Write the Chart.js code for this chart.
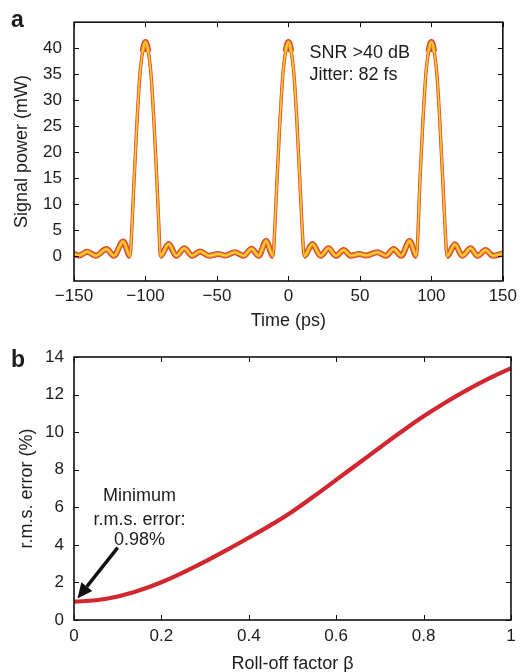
<!DOCTYPE html>
<html>
<head>
<meta charset="utf-8">
<script src="https://cdn.jsdelivr.net/npm/chart.js@4.4.1/dist/chart.umd.min.js"></script>
<style>
  html, body { margin: 0; padding: 0; background: #fff; overflow: hidden; }
  #wrapA { position: absolute; left: 0; top: 0; }
  #wrapB { position: absolute; left: 0; top: 336px; }
</style>
</head>
<body>
<div id="wrapA"><canvas id="chartA" width="522" height="336"></canvas></div>
<div id="wrapB"><canvas id="chartB" width="522" height="340"></canvas></div>
<script>
// panel a : signal power vs time
const timePs = [
  -150, -146.5, -140.7, -134.9, -127.2, -122.1, -115.6, -110.8,
  -109.5, -108, -106, -104, -102, -100, -98, -96, -94, -92, -90.6,
  -89.6, -83.8, -78.4, -72.8, -67.3, -61.8, -55.5, -49, -44.3, -37.4, -31.4, -25.8, -20.8, -15.6, -10.8,
  -9.5, -8, -6, -4, -2, 0, 2, 4, 6, 8, 9.6,
  11, 16.8, 22.6, 28.1, 33.3, 38.6, 43.8, 49.5, 54.5, 62.3, 68.2, 73.6, 79, 84.8, 89.6,
  90.8, 92, 94, 96, 98, 100, 102, 104, 106, 108, 109.6,
  111, 116.5, 121.6, 127.5, 132.3, 137.9, 143.3, 150
];
const powerMw = [
  0.4, 0.1, 0.85, 0.05, 1.35, 0.05, 2.8, 0,
  5.5, 14.5, 25.5, 34.5, 39.3, 41.2, 39.3, 34.5, 25.5, 14.5, 5.5,
  0, 2.3, 0.05, 1.5, 0.05, 0.9, 0.05, 0.4, 0.1, 0.75, 0.05, 1.4, 0.05, 2.9, 0,
  5.5, 14.5, 25.5, 34.5, 39.3, 41.2, 39.3, 34.5, 25.5, 14.5, 5.5,
  0, 2.3, 0.05, 1.5, 0.05, 1.15, 0.05, 0.4, 0.1, 0.75, 0.05, 1.35, 0.05, 2.9, 0,
  5.5, 14.5, 25.5, 34.5, 39.3, 41.2, 39.3, 34.5, 25.5, 14.5, 5.5,
  0, 2.25, 0.05, 1.5, 0.05, 1.15, 0.05, 0.5
];
const timeTicks = [-150, -100, -50, 0, 50, 100, 150];
const powerTicks = [0, 5, 10, 15, 20, 25, 30, 35, 40];

// panel b : r.m.s. error vs roll-off factor
const rollOff = [0, 0.05, 0.1, 0.15, 0.2, 0.25, 0.3, 0.35, 0.4, 0.45, 0.5,
  0.55, 0.6, 0.65, 0.7, 0.75, 0.8, 0.85, 0.9, 0.95, 1];
const rmsError = [0.98, 1.05, 1.25, 1.58, 2.01, 2.53, 3.11, 3.73, 4.38, 5.05, 5.78,
  6.6, 7.46, 8.32, 9.18, 10.03, 10.84, 11.58, 12.25, 12.86, 13.4];
const rollOffTicks = [0, 0.2, 0.4, 0.6, 0.8, 1];
const errorTicks = [0, 2, 4, 6, 8, 10, 12, 14];

const FONT = "'Liberation Sans', Arial, Helvetica, sans-serif";
const INK = '#1c1c1c';
Chart.defaults.font.family = FONT;
Chart.defaults.color = INK;

function fixedTicks(list) {
  return (scale) => { scale.ticks = list.map(v => ({ value: v })); };
}
function minusLabel(v) {
  return v < 0 ? '\u2212' + Math.abs(v) : String(v);
}

// box with inward ticks on all four sides
const boxTicks = {
  id: 'boxTicks',
  afterDatasetsDraw(chart) {
    const { ctx, chartArea: { left, right, top, bottom }, scales: { x, y } } = chart;
    ctx.save();
    ctx.strokeStyle = '#111';
    ctx.lineWidth = 1;
    ctx.beginPath();
    x.ticks.forEach(t => {
      const px = Math.round(x.getPixelForValue(t.value)) + 0.5;
      ctx.moveTo(px, bottom); ctx.lineTo(px, bottom - 5);
      ctx.moveTo(px, top); ctx.lineTo(px, top + 5);
    });
    y.ticks.forEach(t => {
      const py = Math.round(y.getPixelForValue(t.value)) + 0.5;
      ctx.moveTo(left, py); ctx.lineTo(left + 5, py);
      ctx.moveTo(right, py); ctx.lineTo(right - 5, py);
    });
    ctx.stroke();
    ctx.lineWidth = 1.6;
    ctx.strokeRect(left, top, right - left, bottom - top);
    ctx.restore();
  }
};

function axisX(min, max, ticks, title, tickPad, titlePad, height, fmt) {
  return {
    type: 'linear', min, max,
    grid: { display: false, drawTicks: false },
    border: { display: false },
    afterBuildTicks: fixedTicks(ticks),
    afterFit: (s) => { s.height = height; },
    ticks: { padding: tickPad, maxRotation: 0, font: { size: 17 }, callback: fmt },
    title: { display: true, text: title, font: { size: 18 }, padding: { top: 0, bottom: titlePad } }
  };
}
function axisY(min, max, ticks, title, tickPad, titlePad) {
  return {
    type: 'linear', min, max,
    grid: { display: false, drawTicks: false },
    border: { display: false },
    afterBuildTicks: fixedTicks(ticks),
    afterFit: (s) => { s.width = 74; },
    ticks: { padding: tickPad, font: { size: 17 } },
    title: { display: true, text: title, font: { size: 18 }, padding: { top: titlePad, bottom: 0 } }
  };
}

// ---- panel a ----
const pts = timePs.map((t, i) => ({ x: t, y: powerMw[i] }));
// noise band: thick on the flat parts, thin on the steep pulse flanks
const layer = (color, flat, steep) => ({
  data: pts, borderColor: color, borderWidth: flat, pointRadius: 0,
  cubicInterpolationMode: 'monotone', fill: false,
  segment: {
    borderWidth: (c) => Math.abs(c.p1.parsed.y - c.p0.parsed.y) > 4.5 ? steep : flat
  }
});

const notesA = {
  id: 'notesA',
  afterDraw(chart) {
    const { ctx, scales: { x, y } } = chart;
    ctx.save();
    ctx.fillStyle = INK;
    ctx.textBaseline = 'alphabetic';
    ctx.font = 'bold 23px ' + FONT;
    ctx.fillText('a', 11, 27);
    ctx.font = '18px ' + FONT;
    ctx.textBaseline = 'middle';
    ctx.fillText('SNR >40 dB', x.getPixelForValue(14.7), y.getPixelForValue(39.1));
    ctx.fillText('Jitter: 82 fs', x.getPixelForValue(14.7), y.getPixelForValue(34.8));
    ctx.restore();
  }
};

new Chart(document.getElementById('chartA'), {
  type: 'line',
  data: {
    datasets: [
      layer('#f7cf2b', 2, 1.2),
      layer('#ee8f2f', 3.8, 2.2),
      layer('#d8442d', 6, 3.4)
    ]
  },
  options: {
    responsive: false,
    animation: false,
    layout: { padding: { left: 0, top: 17, right: 18, bottom: 0 } },
    plugins: { legend: { display: false }, tooltip: { enabled: false } },
    scales: {
      x: axisX(-150, 150, timeTicks, 'Time (ps)', 5, 4.5, 55, minusLabel),
      y: axisY(-4.8, 45, powerTicks, 'Signal power (mW)', 12, 11)
    }
  },
  plugins: [boxTicks, notesA]
});

// ---- panel b ----
const notesB = {
  id: 'notesB',
  afterDraw(chart) {
    const { ctx, scales: { x, y } } = chart;
    ctx.save();
    ctx.fillStyle = INK;
    ctx.font = 'bold 23px ' + FONT;
    ctx.fillText('b', 11, 31);
    ctx.font = '18px ' + FONT;
    ctx.textAlign = 'center';
    ctx.textBaseline = 'middle';
    const cx = x.getPixelForValue(0.15);
    ctx.fillText('Minimum', cx, y.getPixelForValue(6.62));
    ctx.fillText('r.m.s. error:', cx, y.getPixelForValue(5.3));
    ctx.fillText('0.98%', cx, y.getPixelForValue(4.28));
    // arrow pointing at the minimum
    const x0 = x.getPixelForValue(0.1), y0 = y.getPixelForValue(3.85);
    const x1 = x.getPixelForValue(0.008), y1 = y.getPixelForValue(1.15);
    const ang = Math.atan2(y1 - y0, x1 - x0);
    const head = 15, half = 7;
    const bx = x1 - head * Math.cos(ang), by = y1 - head * Math.sin(ang);
    ctx.strokeStyle = '#111';
    ctx.fillStyle = '#111';
    ctx.lineWidth = 3.4;
    ctx.beginPath(); ctx.moveTo(x0, y0); ctx.lineTo(bx, by); ctx.stroke();
    ctx.beginPath();
    ctx.moveTo(x1, y1);
    ctx.lineTo(bx + half * Math.sin(ang), by - half * Math.cos(ang));
    ctx.lineTo(bx - half * Math.sin(ang), by + half * Math.cos(ang));
    ctx.closePath();
    ctx.fill();
    ctx.restore();
  }
};

new Chart(document.getElementById('chartB'), {
  type: 'line',
  data: {
    datasets: [{
      data: rollOff.map((b, i) => ({ x: b, y: rmsError[i] })),
      borderColor: '#d3272f', borderWidth: 4.2, pointRadius: 0,
      tension: 0.4, fill: false
    }]
  },
  options: {
    responsive: false,
    animation: false,
    layout: { padding: { left: 0, top: 21, right: 7, bottom: 0 } },
    plugins: { legend: { display: false }, tooltip: { enabled: false } },
    scales: {
      x: axisX(0, 1, rollOffTicks, 'Roll-off factor \u03b2', 6.3, 1.2, 56),
      y: axisY(0, 14, errorTicks, 'r.m.s. error (%)', 10, 16)
    }
  },
  plugins: [boxTicks, notesB]
});
</script>
</body>
</html>
